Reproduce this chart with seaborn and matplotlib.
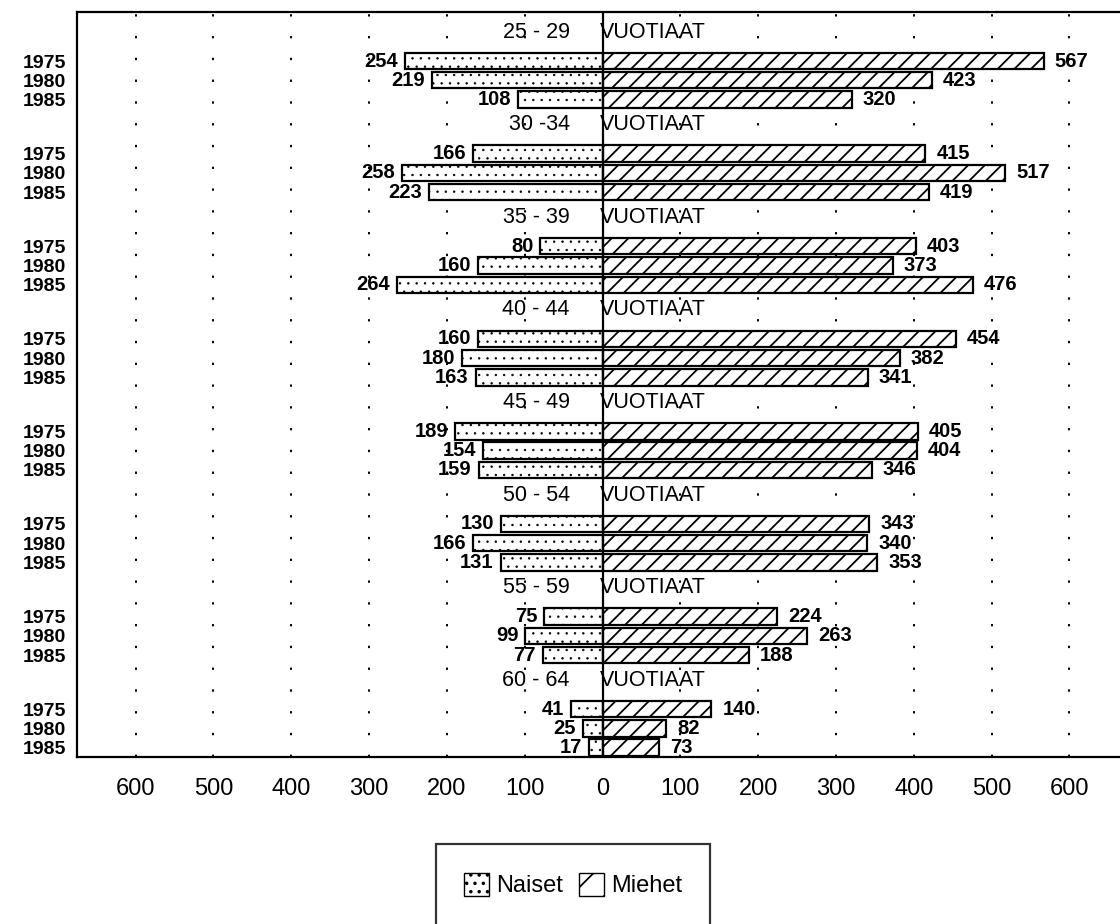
import numpy as np
import pandas as pd
import matplotlib
matplotlib.use("Agg")
import matplotlib.pyplot as plt
from matplotlib.patches import Patch
import seaborn as sns

# age groups, years and counts
ages = ["25 - 29", "30 -34", "35 - 39", "40 - 44", "45 - 49", "50 - 54", "55 - 59", "60 - 64"]
years = ["1975", "1980", "1985"]
naiset = [254, 219, 108,
          166, 258, 223,
          80, 160, 264,
          160, 180, 163,
          189, 154, 159,
          130, 166, 131,
          75, 99, 77,
          41, 25, 17]
miehet = [567, 423, 320,
          415, 517, 419,
          403, 373, 476,
          454, 382, 341,
          405, 404, 346,
          343, 340, 353,
          224, 263, 188,
          140, 82, 73]
xticks = [-600, -500, -400, -300, -200, -100, 0, 100, 200, 300, 400, 500, 600]

sns.set_style("white", rc={"text.color": "black", "axes.labelcolor": "black",
                           "xtick.color": "black", "ytick.color": "black"})
plt.rcParams["font.family"] = ["Liberation Sans", "DejaVu Sans"]

# row layout: one title row then three bars per age group
GROUP = 4.8
title_pos = [g * GROUP for g in range(len(ages))]
pos = [g * GROUP + 1.5 + i for g in range(len(ages)) for i in range(len(years))]

df = pd.DataFrame({
    "pos": pos,
    "naiset": -np.array(naiset),
    "miehet": miehet,
    "vuosi": years * len(ages),
})

fig = plt.figure(figsize=(11.2, 9.24), dpi=100)
ax = fig.add_axes([0.069, 0.181, 0.931, 0.806])

plt.rcParams["hatch.linewidth"] = 0.5
sns.barplot(data=df, x="naiset", y="pos", orient="h", native_scale=True,
            color="white", saturation=1, edgecolor="black", linewidth=1.6,
            hatch="..", width=0.85, errorbar=None, ax=ax)
plt.rcParams["hatch.linewidth"] = 1.3
sns.barplot(data=df, x="miehet", y="pos", orient="h", native_scale=True,
            color="white", saturation=1, edgecolor="black", linewidth=1.6,
            hatch="//", width=0.85, errorbar=None, ax=ax)

ax.bar_label(ax.containers[0], labels=[str(v) for v in naiset], padding=5,
             fontsize=14.5, fontweight="bold")
ax.bar_label(ax.containers[1], labels=[str(v) for v in miehet], padding=8,
             fontsize=14.5, fontweight="bold")

# group titles around the centre line
for t, age in zip(title_pos, ages):
    ax.text(-42, t, age, ha="right", va="center", fontsize=15.5)
    ax.text(-4, t, "VUOTIAAT", ha="left", va="center", fontsize=15.5)

# dotted grid and solid centre line
for v in xticks:
    if v != 0:
        ax.axvline(v, color="black", linestyle=(0, (1.2, 10)), lw=1.4, zorder=0)
ax.axvline(0, color="black", lw=1.6, zorder=5)

ax.set_xlim(-675, 665)
ax.set_ylim(pos[-1] + 0.47, -1.04)
ax.set_xticks(xticks)
ax.set_xticklabels([str(abs(v)) for v in xticks], fontsize=17)
ax.set_yticks(pos)
ax.set_yticklabels(df["vuosi"], fontsize=14, fontweight="bold")
ax.tick_params(axis="x", length=0, pad=15)
ax.tick_params(axis="y", length=0, pad=8)
ax.set_xlabel("")
ax.set_ylabel("")
for s in ["left", "top", "bottom"]:
    ax.spines[s].set_color("black")
    ax.spines[s].set_linewidth(1.6)
ax.spines["right"].set_visible(False)

handles = [
    Patch(facecolor="white", edgecolor="black", hatch="..", label="Naiset"),
    Patch(facecolor="white", edgecolor="black", hatch="/", label="Miehet"),
]
leg = fig.legend(handles=handles, loc="center", bbox_to_anchor=(573 / 1120, 1 - 885 / 924),
                 ncol=2, fontsize=17, frameon=True, fancybox=False, borderpad=1.2,
                 handlelength=1.05, handleheight=1.15, handletextpad=0.3,
                 columnspacing=0.7)
leg.get_frame().set_edgecolor("black")
leg.get_frame().set_linewidth(1.6)

fig.savefig("out.png", dpi=100)
